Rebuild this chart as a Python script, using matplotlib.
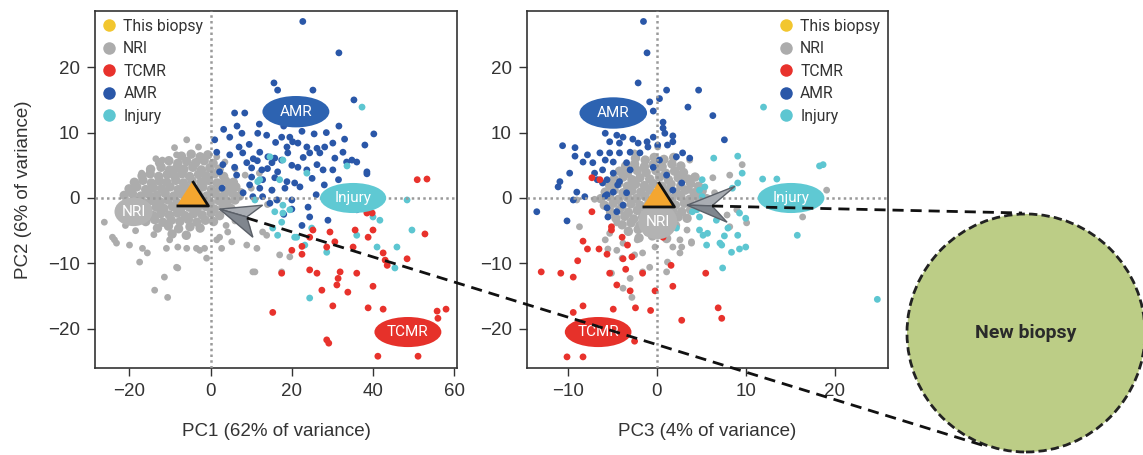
import matplotlib
matplotlib.use('Agg')
import matplotlib.pyplot as plt
from matplotlib.patches import Ellipse, Polygon, Circle
from matplotlib.lines import Line2D
import numpy as np

# ---------------- data ----------------
# Left panel: PC1 (x) vs PC2 (y)
nri_left = [
    (-5.9, 8.9), (-8.9, 7.7), (-8.4, 6.6), (-11.9, 5.8), (-17.0, 3.8), (-15.1, 4.3),
    (-26.2, -3.7), (-24.2, -6.0), (-23.2, -6.9), (-20.0, -7.2), (-16.8, -7.7), (-17.5, -9.8),
    (-15.6, -8.4), (-10.9, -7.7), (-8.1, -7.5), (-5.9, -7.7), (-3.5, -7.7), (-8.4, -10.6),
    (-11.4, -12.1), (-13.8, -14.1), (-1.5, -7.7), (1.5, -6.4), (5.2, -6.7), (8.9, -7.2),
    (11.4, -7.7), (10.9, -11.3), (13.8, -5.7), (2.7, -7.7), (-10.6, -15.2), (-8.1, -10.7),
    (17.5, -11.3), (19.5, -9.0), (-1.0, -9.2), (4.2, -5.2), (-2.7, -8.0), (-10.1, -6.4),
    (-23.7, -6.4), (17.0, -8.7), (1.5, 6.3), (2.2, -6.0), (10.4, -11.3), (12.8, -5.2),
    (16.5, -0.3), (15.1, 1.2), (3.5, 5.5), (6.0, 4.5), (8.5, 3.5), (4.5, 2.0), (7.5, 1.0),
    (10.0, 1.5), (12.0, 3.8), (14.0, -1.0), (6.0, -3.5), (9.0, -4.5), (3.8, -4.2),
    (-22.5, -1.5), (-21.0, -4.2), (-18.5, -5.0), (-14.0, -5.6), (-3.0, 7.8), (-13.5, 6.0),
]

# dense NRI core around the biopsy (drawn with slightly larger dots)
nri_left_core = [
    (-7.2, 6.4), (-4.8, 6.7), (-2.6, 6.3), (-0.7, 6.6),
    (-12.6, 5.4), (-10.3, 5.7), (-8.1, 5.3), (-5.9, 5.6), (-3.7, 5.4), (-1.6, 5.7), (0.6, 5.3),
    (-14.8, 4.4), (-12.2, 4.7), (-10.1, 4.3), (-8.4, 4.6), (-6.6, 4.4), (-4.4, 4.7), (-2.3, 4.3),
    (-0.2, 4.6), (2.1, 4.4),
    (-16.9, 3.4), (-14.9, 3.7), (-12.8, 3.3), (-10.7, 3.6), (-8.9, 3.4), (-7.1, 3.7), (-5.2, 3.3),
    (-3.0, 3.6), (-1.1, 3.4), (1.0, 3.7), (3.2, 3.3),
    (-18.8, 2.4), (-16.7, 2.7), (-14.6, 2.3), (-12.6, 2.6), (-10.8, 2.4), (-8.6, 2.7), (-6.7, 2.3),
    (-4.6, 2.6), (-2.4, 2.4), (-0.5, 2.7), (1.6, 2.3), (3.7, 2.6), (5.6, 2.4),
    (-20.1, 1.4), (-18.2, 1.7), (-16.0, 1.3), (-14.1, 1.6), (-12.1, 1.4), (-10.0, 1.7), (-8.0, 1.3),
    (-6.1, 1.6), (-3.9, 1.4), (-1.9, 1.7), (0.2, 1.3), (2.3, 1.6), (4.4, 1.4), (6.2, 1.7),
    (-21.3, 0.4), (-19.3, 0.7), (-17.2, 0.3), (-15.3, 0.6), (-13.3, 0.4), (-11.2, 0.7), (-9.1, 0.3),
    (-7.2, 0.6), (-5.0, 0.4), (-3.1, 0.7), (-1.0, 0.3), (1.2, 0.6), (3.3, 0.4), (5.4, 0.7), (7.1, 0.3),
    (-20.6, -0.6), (-18.6, -0.3), (-16.5, -0.7), (-14.5, -0.4), (-12.4, -0.6), (-10.5, -0.3),
    (-8.3, -0.7), (-6.2, -0.4), (-4.1, -0.6), (-2.2, -0.3), (-0.1, -0.7), (2.0, -0.4), (4.1, -0.6),
    (6.0, -0.3),
    (-19.4, -1.6), (-17.5, -1.3), (-15.5, -1.7), (-13.4, -1.4), (-11.5, -1.6), (-9.4, -1.3),
    (-7.4, -1.7), (-5.3, -1.4), (-3.3, -1.6), (-1.2, -1.3), (0.9, -1.7), (3.0, -1.4), (5.0, -1.6),
    (-18.2, -2.6), (-16.3, -2.3), (-14.2, -2.7), (-12.3, -2.4), (-10.2, -2.6), (-8.2, -2.3),
    (-6.3, -2.7), (-4.2, -2.4), (-2.1, -2.6), (0.1, -2.3), (2.2, -2.7),
    (-16.0, -3.6), (-13.8, -3.3), (-11.8, -3.7), (-9.7, -3.4), (-7.6, -3.6), (-5.5, -3.3),
    (-3.4, -3.7), (-1.3, -3.4), (0.7, -3.6),
    (-13.1, -4.6), (-10.4, -4.3), (-7.9, -4.7), (-5.1, -4.4), (-2.6, -4.6),
    (-9.5, -5.5), (-6.0, -5.7),
]

amr_left = [
    (22.7, 27.0), (31.6, 22.2), (15.6, 17.6), (16.5, 16.5), (25.2, 16.5), (35.3, 15.0),
    (5.9, 13.0), (8.4, 13.0), (31.6, 11.0), (40.2, 9.8), (38.0, 8.1), (38.5, 3.7),
    (1.0, 8.9), (4.7, 9.3), (7.7, 9.9), (11.6, 9.9), (13.8, 9.6), (17.5, 9.3), (19.5, 9.3),
    (20.2, 8.6), (21.5, 8.4), (23.7, 7.8), (26.2, 7.6), (28.1, 7.8), (30.1, 8.4),
    (1.5, 7.0), (4.7, 6.6), (7.9, 6.9), (12.1, 7.0), (14.1, 6.3), (15.8, 6.1), (18.8, 7.8),
    (19.0, 6.9), (24.4, 6.9), (26.9, 6.9), (30.6, 6.1), (32.6, 7.0), (34.8, 5.8), (36.0, 5.5),
    (3.0, 5.1), (5.9, 4.7), (8.9, 5.4), (10.1, 4.6), (12.6, 4.3), (15.1, 5.4), (16.5, 4.0),
    (21.5, 4.7), (23.7, 4.3), (26.2, 5.1), (27.7, 4.3), (30.1, 4.3), (38.5, 4.0),
    (2.2, 4.0), (6.4, 3.5), (10.1, 3.2), (12.8, 2.8), (15.8, 3.1), (18.8, 2.5), (20.7, 2.3),
    (22.0, 1.7), (9.6, 2.0), (12.1, 1.5), (15.1, 1.2), (18.3, 1.5), (10.4, 0.2), (12.8, 0.2),
    (16.3, -0.3), (20.0, -0.3), (24.0, -1.4), (24.4, -2.9), (28.9, -3.4), (36.0, -1.8),
    (20.0, -1.7), (14.6, -0.8),
    (9.5, 8.2), (16.0, 8.5), (22.5, 10.2), (25.5, 9.8), (18.0, 11.0), (28.5, 10.0), (33.0, 9.0),
    (12.0, 11.3), (3.2, 10.5), (6.5, 11.0), (10.5, 6.0), (17.5, 5.8), (20.0, 5.0), (22.8, 6.2),
    (25.0, 3.0), (28.0, 2.0), (31.5, 2.8), (33.5, 5.5), (8.0, 0.8), (18.0, -2.5), (22.5, -4.2),
    (26.0, 0.5), (14.0, 4.5), (11.5, 5.7), (7.0, 7.8), (2.8, 1.5),
]

injury_left = [
    (37.3, 13.9), (14.6, 6.3), (17.8, 5.8), (33.6, 4.9), (23.7, 3.8), (17.0, 2.8), (12.1, 2.8),
    (10.9, -0.3), (19.5, -1.8), (16.5, -5.7), (21.2, -6.0), (24.9, -4.6), (41.7, -3.4),
    (41.0, -7.5), (45.9, -7.5), (36.0, -5.7), (45.4, -10.7), (48.4, -0.3), (49.6, -4.9),
    (24.4, -15.3), (17.8, -2.3), (23.2, -7.2), (28.6, -8.3), (40.0, -2.9), (38.5, -2.1),
    (11.6, 2.5), (15.8, -2.1), (17.5, -3.7), (15.3, -4.6), (20.7, -6.0), (17.8, -1.1),
]

tcmr_left = [
    (50.9, 2.8), (53.3, 2.9), (38.5, -2.3), (39.8, -2.3), (25.2, -4.9), (29.4, -5.2),
    (35.6, -4.9), (40.0, -4.9), (52.8, -5.5), (24.4, -6.0), (30.6, -6.7), (38.8, -6.0),
    (42.5, -8.4), (43.5, -10.3), (48.4, -9.3), (22.5, -8.6), (20.0, -8.0), (24.4, -11.0),
    (26.2, -11.5), (17.5, -11.5), (31.9, -11.3), (36.0, -11.5), (31.4, -12.3), (27.4, -14.1),
    (31.1, -13.3), (33.8, -14.4), (40.0, -13.5), (30.1, -16.5), (38.8, -16.8), (42.5, -17.0),
    (55.8, -17.3), (58.0, -17.0), (56.0, -18.4), (15.3, -17.5), (28.6, -21.7), (29.1, -22.2),
    (41.2, -24.2), (51.1, -24.2), (28.6, -7.5), (35.1, -7.5), (43.0, -9.5), (22.5, -7.4),
]

# Right panel: PC3 (x) vs PC2 (y)
nri_right = [
    (-2.5, 6.9), (0.1, 7.8), (3.7, 5.8), (3.1, 3.2), (6.3, 3.1), (8.2, 3.5), (6.5, 0.8),
    (3.7, 1.2), (9.0, -1.8), (7.9, -2.6), (8.2, -4.4), (3.4, -4.9), (3.9, -6.9), (2.6, -6.4),
    (1.8, -7.5), (-0.2, -7.5), (-1.6, -8.4), (-2.2, -6.4), (-3.8, -6.9), (-4.5, -8.0),
    (-3.9, -9.2), (-2.5, -8.7), (-0.8, -10.6), (-5.3, -5.4), (-5.8, -6.4), (-4.5, -3.8),
    (-8.7, -4.4), (-7.0, -0.2), (-9.0, -0.3), (-5.3, -2.3), (-5.1, -11.5), (-1.6, -11.3),
    (-5.5, -7.8), (-3.0, -12.3), (-3.8, -13.8), (-2.8, -15.2), (1.2, -9.8), (1.1, -11.3),
    (3.9, -6.7), (2.8, -7.5), (10.1, -3.8), (16.4, -2.9), (19.1, 1.2), (9.6, 5.1), (2.6, -8.4),
]

nri_right_core = [
    (-2.4, 6.1), (-1.3, 5.8), (-0.3, 6.2), (0.8, 5.9), (1.9, 6.2),
    (-3.5, 4.9), (-2.5, 5.2), (-1.4, 4.8), (-0.4, 5.1), (0.6, 4.8), (1.7, 5.2), (2.7, 4.9),
    (-4.2, 4.1), (-3.3, 3.8), (-2.2, 4.2), (-1.2, 3.9), (-0.1, 4.2), (1.0, 3.8), (2.0, 4.1), (3.0, 3.9),
    (-4.8, 2.9), (-3.8, 3.2), (-2.8, 2.8), (-1.9, 3.1), (-0.8, 2.9), (0.3, 3.2), (1.3, 2.8),
    (2.4, 3.1), (3.5, 2.9), (4.3, 3.2),
    (-5.3, 1.9), (-4.3, 2.2), (-3.3, 1.8), (-2.4, 2.1), (-1.4, 1.9), (-0.4, 2.2), (0.6, 1.8),
    (1.6, 2.1), (2.7, 1.9), (3.8, 2.2), (4.7, 1.8),
    (-5.8, 0.9), (-4.8, 1.2), (-3.8, 0.8), (-2.8, 1.1), (-1.8, 0.9), (-0.8, 1.2), (0.2, 0.8),
    (1.2, 1.1), (2.2, 0.9), (3.2, 1.2), (4.2, 0.8), (5.1, 1.1),
    (-6.3, -0.1), (-5.3, 0.2), (-4.3, -0.2), (-3.3, 0.1), (-2.3, -0.1), (-1.3, 0.2), (-0.3, -0.2),
    (0.7, 0.1), (1.7, -0.1), (2.7, 0.2), (3.7, -0.2), (4.6, 0.1), (5.6, -0.1),
    (-5.9, -1.1), (-4.9, -0.8), (-3.9, -1.2), (-2.9, -0.9), (-1.9, -1.1), (-0.9, -0.8), (0.1, -1.2),
    (1.1, -0.9), (2.1, -1.1), (3.1, -0.8), (4.1, -1.2), (5.0, -0.9),
    (-5.2, -2.1), (-4.2, -1.8), (-3.2, -2.2), (-2.2, -1.9), (-1.2, -2.1), (-0.2, -1.8), (0.8, -2.2),
    (1.8, -1.9), (2.8, -2.1), (3.8, -1.8),
    (-4.6, -3.1), (-3.6, -2.8), (-2.6, -3.2), (-1.6, -2.9), (-0.6, -3.1), (0.4, -2.8), (1.4, -3.2),
    (2.4, -2.9), (3.4, -3.1),
    (-3.9, -4.1), (-2.9, -3.8), (-1.9, -4.2), (-0.9, -3.9), (0.1, -4.1), (1.1, -3.8), (2.1, -4.2),
    (-3.2, -5.1), (-2.1, -4.8), (-1.0, -5.2), (0.0, -4.9), (1.0, -5.1),
    (-2.0, -6.1), (-0.5, -5.8), (1.1, -6.2),
]

amr_right = [
    (-1.5, 27.0), (-1.1, 22.2), (-2.1, 17.6), (1.1, 16.5), (4.7, 16.5), (0.3, 15.2), (-0.8, 14.7),
    (3.5, 13.9), (-0.4, 13.3), (6.3, 12.6), (0.7, 11.6), (0.7, 10.7), (-0.4, 9.3), (0.9, 9.9),
    (1.8, 9.5), (7.6, 8.9), (-10.6, 8.0), (-9.2, 7.7), (-9.2, 6.4), (-8.3, 5.5), (-9.8, 3.8),
    (-10.9, 2.5), (-11.1, 1.7), (-9.0, 0.9), (-5.8, 9.9), (-4.5, 9.6), (-3.8, 9.3), (-2.7, 9.0),
    (-5.3, 8.6), (-4.2, 8.4), (-2.1, 8.4), (-1.1, 8.6), (-6.4, 6.9), (-5.3, 6.9), (-4.2, 6.9),
    (-3.0, 7.0), (-1.9, 6.9), (-1.0, 7.8), (0.1, 8.1), (1.2, 8.1), (1.8, 8.6), (2.9, 6.9),
    (3.7, 6.1), (2.2, 6.3), (-7.2, 5.4), (-5.8, 5.8), (-4.9, 5.5), (-3.4, 5.4), (-6.1, 4.3),
    (-4.9, 3.8), (-3.0, 4.3), (-0.4, 4.7), (0.3, 5.8), (1.1, 3.5), (-7.0, 3.8), (-6.7, 2.8),
    (-5.6, 2.8), (-4.2, 2.5), (2.8, 2.3), (1.8, 1.2), (-5.6, 0.5), (-8.1, 0.2), (-9.4, -0.3),
    (-13.5, -2.1), (-10.1, -3.5), (-5.8, 0.3), (-5.6, -1.5), (-4.5, -2.1), (-3.8, -1.1),
    (-3.4, 0.8), (-4.9, 0.9), (-4.4, 2.0), (-5.5, -2.9), (-6.1, 2.3), (-7.8, 6.6),
]

injury_right = [
    (12.0, 13.9), (6.4, 6.1), (9.1, 6.4), (9.6, 3.8), (18.3, 4.9), (18.7, 5.1), (11.9, 2.9),
    (13.5, 2.9), (9.1, 2.3), (8.5, 1.5), (5.1, 2.8), (5.4, 1.7), (4.8, 1.2), (4.0, -2.1),
    (9.3, -2.3), (10.0, -3.1), (8.0, -4.6), (6.7, -3.4), (4.8, -4.9), (5.2, -5.7), (7.6, -5.8),
    (9.1, -5.7), (5.6, -7.2), (7.3, -7.2), (10.0, -7.5), (9.3, -7.8), (8.4, -8.3), (15.8, -5.7),
    (24.8, -15.5), (7.4, -10.7), (2.2, -4.6), (5.1, 0.2), (4.5, -1.8), (5.7, -5.4), (7.1, -6.9),
    (4.8, -2.9),
]

tcmr_right = [
    (-7.3, 3.1), (-6.4, 2.8), (-7.3, -2.1), (-5.1, -4.9), (-8.3, -6.6), (-7.8, -7.8), (-6.5, -7.8),
    (-5.6, -8.6), (-8.9, -9.6), (-3.8, -9.3), (-2.8, -9.0), (-3.3, -7.2), (-13.0, -11.3),
    (-10.8, -11.5), (-9.4, -12.1), (-5.3, -11.5), (-3.5, -10.9), (-1.6, -11.5), (-4.5, -13.3),
    (-3.0, -14.2), (-0.2, -14.2), (1.6, -10.3), (1.8, -13.5), (5.5, -11.5), (-8.3, -16.5),
    (-9.4, -17.5), (-4.9, -17.0), (-2.4, -16.8), (-0.7, -17.2), (2.8, -18.7), (6.9, -16.8),
    (7.3, -18.4), (-10.1, -24.3), (-8.3, -24.3), (-2.5, -21.9), (0.7, -6.0), (-5.1, -4.4),
    (-3.9, -6.0),
]

this_biopsy_left = (-4.7, 0.7)
this_biopsy_right = (0.1, 0.6)

legend_labels = ["This biopsy", "NRI", "TCMR", "AMR", "Injury"]
xticks_left = [-20, 0, 20, 40, 60]
xticks_right = [-10, 0, 10, 20]
yticks = [-20, -10, 0, 10, 20]

# ---------------- styling ----------------
C_BIOPSY = '#f2c62f'
C_TRI = '#f4a630'
C_NRI = '#acacac'
C_TCMR = '#e8322c'
C_AMR = '#2a57a8'
C_INJ = '#5dc6d1'
LBL_AMR = '#2d63b1'
LBL_INJ = '#5fc9d3'
LBL_TCMR = '#e6312a'
LBL_NRI = '#b3b3b3'

TICKFONT = ['Liberation Sans', 'DejaVu Sans']
TXTFONT = ['Roboto', 'DejaVu Sans']
FS = 13.5

W, H = 1143, 455
fig = plt.figure(figsize=(W / 100, H / 100), dpi=100)


def fx(px):
    return px / W


def fy(py):
    return 1 - py / H


axL = fig.add_axes([fx(95), fy(368), (457 - 95) / W, (368 - 11) / H])
axR = fig.add_axes([fx(527), fy(368), (888 - 527) / W, (368 - 11) / H])

S = 24
S_CORE = 46


def draw_points(ax, nri, core, amr, inj, tcmr):
    c = np.array(core)
    ax.scatter(c[:, 0], c[:, 1], s=S_CORE, color=C_NRI, edgecolors='none', zorder=2)
    for pts, col in ((nri, C_NRI), (amr, C_AMR), (inj, C_INJ), (tcmr, C_TCMR)):
        a = np.array(pts)
        ax.scatter(a[:, 0], a[:, 1], s=S, color=col, edgecolors='none', zorder=2)


def style_axes(ax, xlim, xticks, xlabel):
    ax.set_xlim(*xlim)
    ax.set_ylim(-26.0, 28.6)
    ax.set_xticks(xticks)
    ax.set_yticks(yticks)
    ax.set_xticklabels([str(t).replace('-', '\u2212') for t in xticks], family=TICKFONT, fontsize=FS, color='#333333')
    ax.set_yticklabels([str(t).replace('-', '\u2212') for t in yticks], family=TICKFONT, fontsize=FS, color='#333333')
    ax.tick_params(direction='out', length=6, width=1.0, color='#333333', pad=5)
    for sp in ax.spines.values():
        sp.set_linewidth(1.2)
        sp.set_color('#333333')
    ax.set_xlabel(xlabel, family=TICKFONT, fontsize=FS, color='#333333', labelpad=16)
    ax.axhline(0, color='#9a9a9a', lw=1.8, ls=(0, (1, 1.3)), zorder=3)
    ax.axvline(0, color='#9a9a9a', lw=1.8, ls=(0, (1, 1.3)), zorder=3)


def label(ax, x, y, w, h, text, fc, fs=11):
    ax.add_patch(Ellipse((x, y), w, h, facecolor=fc, edgecolor='none', zorder=5))
    ax.text(x, y, text, color='white', fontsize=fs, ha='center', va='center',
            family=TXTFONT, zorder=6)


tri_marker = [(-1, -0.78), (1, -0.78), (0, 0.78)]

# ---- left panel ----
draw_points(axL, nri_left, nri_left_core, amr_left, injury_left, tcmr_left)
style_axes(axL, (-28.5, 60.7), xticks_left, 'PC1 (62% of variance)')
axL.set_ylabel('PC2 (6% of variance)', family=TICKFONT, fontsize=FS, color='#333333', labelpad=11)
label(axL, 21.0, 13.2, 16.5, 4.8, 'AMR', LBL_AMR)
label(axL, 35.1, 0.0, 16.3, 4.6, 'Injury', LBL_INJ)
label(axL, 48.6, -20.5, 16.5, 4.6, 'TCMR', LBL_TCMR)
label(axL, -19.0, -2.1, 9.4, 4.4, 'NRI', LBL_NRI)
axL.plot(*this_biopsy_left, marker=tri_marker, ms=23, mfc=C_TRI, mec='#111111', mew=2.0, ls='', zorder=7)
axL.add_patch(Polygon([(2.2, -1.7), (12.8, -1.1), (8.9, -2.9)], closed=True,
                      facecolor='#a9adb3', edgecolor='#5b6068', lw=1.0, zorder=7))
axL.add_patch(Polygon([(2.2, -1.7), (8.9, -2.9), (10.4, -6.0)], closed=True,
                      facecolor='#80868e', edgecolor='#5b6068', lw=1.0, zorder=7))

# ---- right panel ----
draw_points(axR, nri_right, nri_right_core, amr_right, injury_right, tcmr_right)
style_axes(axR, (-14.6, 26.0), xticks_right, 'PC3 (4% of variance)')
label(axR, -4.9, 13.0, 7.6, 4.8, 'AMR', LBL_AMR)
label(axR, 15.1, 0.0, 7.5, 4.6, 'Injury', LBL_INJ)
label(axR, -6.6, -20.5, 7.5, 4.6, 'TCMR', LBL_TCMR)
label(axR, 0.1, -3.6, 4.4, 5.4, 'NRI', LBL_NRI)
axR.plot(*this_biopsy_right, marker=tri_marker, ms=23, mfc=C_TRI, mec='#111111', mew=2.0, ls='', zorder=7)
axR.add_patch(Polygon([(3.4, -1.1), (8.8, 1.8), (6.2, -1.2)], closed=True,
                      facecolor='#a9adb3', edgecolor='#5b6068', lw=1.0, zorder=7))
axR.add_patch(Polygon([(3.4, -1.1), (6.2, -1.2), (7.9, -3.7)], closed=True,
                      facecolor='#80868e', edgecolor='#5b6068', lw=1.0, zorder=7))

# ---- legends ----
handles = [Line2D([], [], ls='', marker='o', ms=9, mfc=c, mec='none')
           for c in (C_BIOPSY, C_NRI, C_TCMR, C_AMR, C_INJ)]
for ax, loc in ((axL, 'upper left'), (axR, 'upper right')):
    lg = ax.legend(handles, legend_labels, loc=loc, frameon=False,
                   prop={'family': TXTFONT, 'size': 11.3}, handlelength=0.8,
                   handletextpad=0.5, labelspacing=0.48, borderaxespad=0.3,
                   borderpad=0.2)
    for t in lg.get_texts():
        t.set_color('#333333')
    lg.set_zorder(8)

# ---- zoom-out circle and connector lines (figure pixel positions, 100 dpi) ----
fig.add_artist(Circle((10.26, (H - 333) / 100), 1.19, transform=fig.dpi_scale_trans,
                      facecolor='#bccd86', edgecolor='#222222', lw=2.0,
                      ls=(0, (3, 1.5)), zorder=1))
fig.text(fx(1026), fy(333), 'New biopsy', ha='center', va='center', fontsize=14,
         fontweight='bold', color='#2a2a2a', family=['Roboto', 'DejaVu Sans'], zorder=2)
fig.add_artist(Line2D([fx(247), fx(985)], [fy(218), fy(446)], color='#111111', lw=2.0,
                      ls=(0, (4, 2.5)), zorder=10))
fig.add_artist(Line2D([fx(712), fx(1022)], [fy(206), fy(213)], color='#111111', lw=2.0,
                      ls=(0, (4, 2.5)), zorder=10))

fig.savefig('out.png', dpi=100)
